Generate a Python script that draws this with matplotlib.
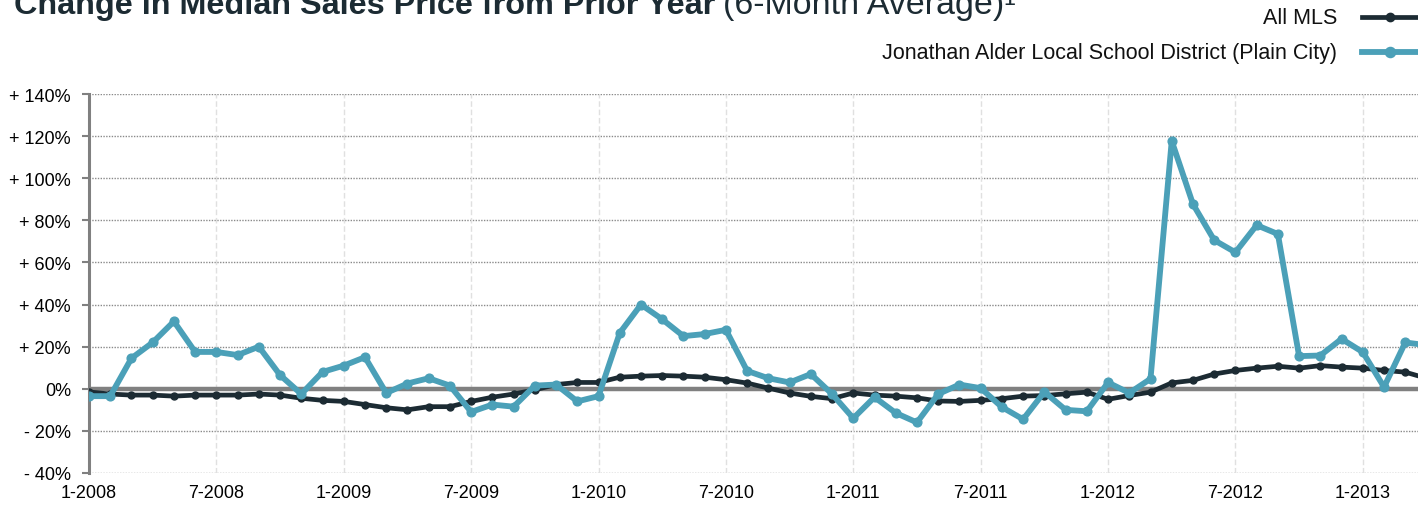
import matplotlib
matplotlib.use("Agg")
import matplotlib.pyplot as plt
from matplotlib.lines import Line2D

# mois depuis 1-2008 (0 = 1-2008)
months = list(range(64))

all_mls = [
    -1.5, -2.5, -3, -3, -3.5, -3, -3, -3, -2.5, -3,
    -4.5, -5.5, -6, -7.5, -9, -10, -8.5, -8.5, -6, -4,
    -2.5, -0.5, 2, 3, 3, 5.5, 6, 6.3, 6, 5.5,
    4.3, 2.7, 0.3, -2, -3.6, -4.7, -2, -3, -3.5, -4.3,
    -5.8, -6, -5.5, -4.7, -3.5, -3.2, -2.4, -1.6, -5, -3.2,
    -1.6, 2.8, 4, 7, 8.7, 9.8, 10.7, 9.8, 11, 10.3,
    9.8, 8.7, 7.9, 5,
]

plain_city = [
    -3.5, -3.5, 14.5, 22, 32, 17.5, 17.5, 16, 20, 6.5,
    -2.5, 8, 11, 15, -2, 2.5, 5, 1.5, -11, -7.5,
    -8.5, 1.5, 2, -6, -3.5, 26.5, 40, 33, 25, 26,
    28, 8.5, 5, 3, 7, -2.5, -14, -4, -11.5, -16,
    -2.5, 2, 0.3, -8.7, -14.5, -1.5, -10, -10.7, 3, -2,
    4.7, 117.7, 87.7, 70.6, 64.8, 77.7, 73.5, 15.5, 15.8, 23.7,
    17.4, 0.8, 22, 20.7,
]

tick_pos = list(range(0, 61, 6))
tick_labels = ["1-2008", "7-2008", "1-2009", "7-2009", "1-2010", "7-2010",
               "1-2011", "7-2011", "1-2012", "7-2012", "1-2013"]
y_ticks = list(range(-40, 141, 20))
y_labels = ["- 40%", "- 20%", "0%", "+ 20%", "+ 40%", "+ 60%", "+ 80%",
            "+ 100%", "+ 120%", "+ 140%"]
series_names = ["All MLS", "Jonathan Alder Local School District (Plain City)"]

dark = "#1c2b33"
teal = "#4ba0b8"

plt.rcParams["font.family"] = ["Liberation Sans", "DejaVu Sans"]

W, H = 1418, 506
fig = plt.figure(figsize=(W / 100, H / 100), dpi=100)
ax = fig.add_axes([89 / W, 32 / H, 1329 / W, 379 / H])

ax.set_xlim(0, 1329 / 21.23)
ax.set_ylim(-40, 140)

# grille
for y in y_ticks:
    ax.axhline(y, color="#8a8a8a", lw=1.0, ls=(0, (1, 1)), zorder=1)
for x in tick_pos:
    ax.axvline(x, color="#e0e0e0", lw=1.0, ls=(0, (4, 2)), zorder=1)
ax.axhline(0, color="#808080", lw=3.2, zorder=2)

ax.plot(months, all_mls, color=dark, lw=3.4, marker="o", ms=5, zorder=3)
ax.plot(months, plain_city, color=teal, lw=4.2, marker="o", ms=6.3, zorder=4)

ax.set_xticks(tick_pos)
ax.set_xticklabels(tick_labels, fontsize=13)
ax.set_yticks(y_ticks)
ax.set_yticklabels(y_labels, fontsize=13)
ax.tick_params(axis="x", length=0, pad=8)
ax.tick_params(axis="y", length=5, width=1.5, color="#808080", pad=8)

for s in ["top", "right", "bottom"]:
    ax.spines[s].set_visible(False)
ax.spines["left"].set_color("#808080")
ax.spines["left"].set_linewidth(2.2)

# titre (coupé en haut comme dans l'original)
t1 = fig.text(14 / W, 1 - 14 / H, "Change in Median Sales Price from Prior Year",
              fontsize=23.3, fontweight="bold", color=dark, va="baseline")
fig.canvas.draw()
bb = t1.get_window_extent()
fig.text((bb.x1 + 8) / W, 1 - 14 / H, "(6-Month Average)\u00b9",
         fontsize=24.5, color=dark, va="baseline")

# légende
for name, col, lw, ms, yy in [(series_names[0], dark, 3.4, 5, 18),
                              (series_names[1], teal, 4.2, 6.3, 53)]:
    fig.text(1337 / W, 1 - yy / H, name, fontsize=15.5, color="#111111",
             ha="right", va="center")
    fig.add_artist(Line2D([1362 / W, 1390 / W, 1420 / W], [1 - yy / H] * 3,
                          color=col, lw=lw, marker="o", ms=ms + 1,
                          markevery=[1], transform=fig.transFigure))

fig.savefig("out.png", dpi=100)
